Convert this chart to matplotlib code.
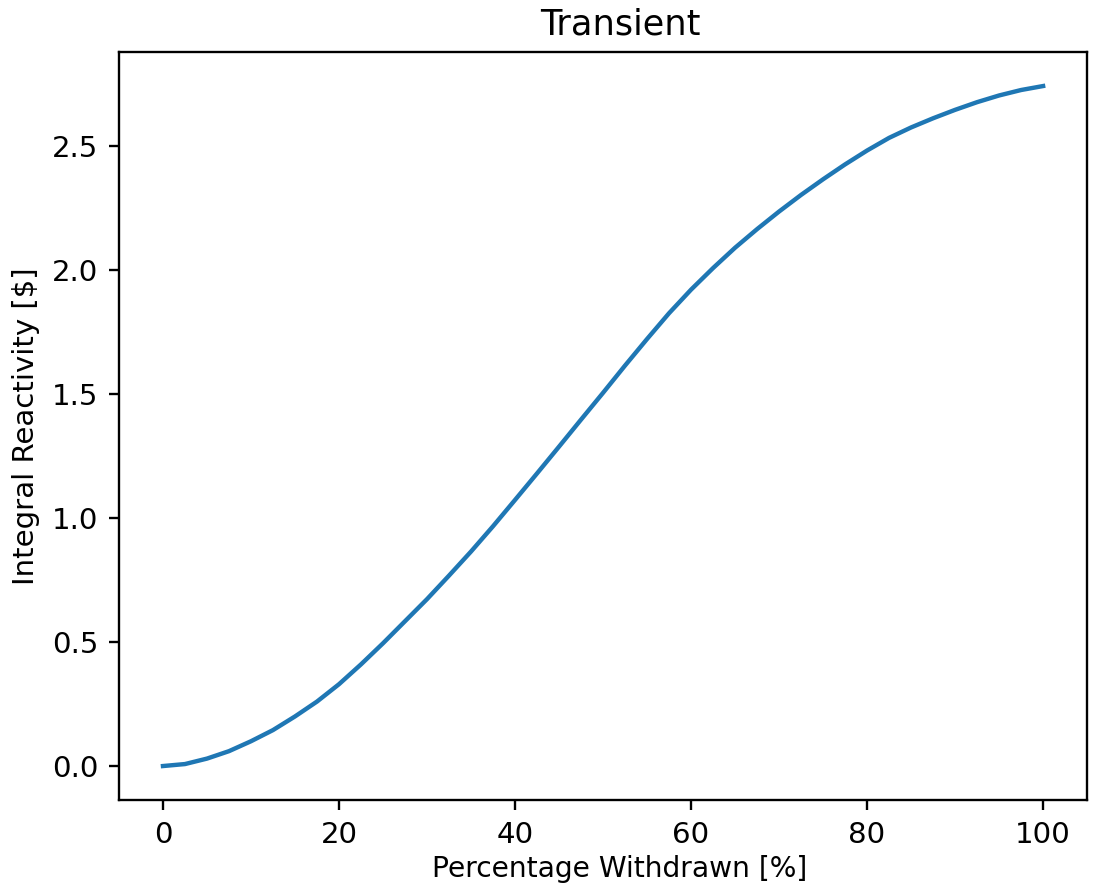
import matplotlib
matplotlib.use("Agg")
import matplotlib.pyplot as plt

# values, every 2.5 %
withdrawn = [0, 2.5, 5, 7.5, 10, 12.5, 15, 17.5, 20, 22.5, 25,
             27.5, 30, 32.5, 35, 37.5, 40, 42.5, 45, 47.5, 50,
             52.5, 55, 57.5, 60, 62.5, 65, 67.5, 70, 72.5, 75,
             77.5, 80, 82.5, 85, 87.5, 90, 92.5, 95, 97.5, 100]
reactivity = [0.0, 0.008, 0.03, 0.06, 0.10, 0.145, 0.20, 0.26, 0.33, 0.41, 0.495,
              0.584, 0.673, 0.768, 0.865, 0.967, 1.073, 1.18, 1.288, 1.397, 1.505,
              1.615, 1.722, 1.826, 1.921, 2.008, 2.09, 2.165, 2.236, 2.303, 2.366,
              2.426, 2.482, 2.533, 2.575, 2.612, 2.646, 2.677, 2.704, 2.726, 2.742]

dpi = 211
fig = plt.figure(figsize=(1115 / dpi, 885 / dpi), dpi=dpi)
ax = fig.add_axes([0.1067, 0.096, 0.8683, 0.8452])

ax.plot(withdrawn, reactivity, color='#1f77b4', linewidth=1.5)

# title and x label sit a little right of the axes centre in the reference
ax.set_title("Transient", x=0.5176)
ax.set_xlabel("Percentage Withdrawn [%]", fontsize=9.6)
ax.xaxis.set_label_coords(0.5176, -0.074)
ax.set_ylabel("Integral Reactivity [$]")

fig.savefig("out.png", dpi=dpi)
